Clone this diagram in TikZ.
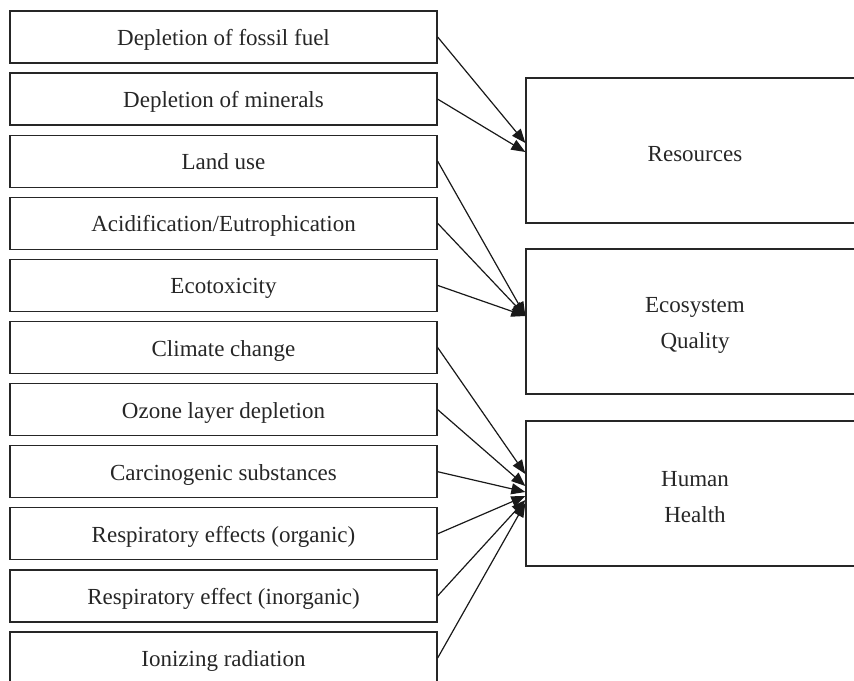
\documentclass[tikz,border=0pt]{standalone}
\usepackage{fontspec}
\setmainfont{Liberation Serif}
\usetikzlibrary{arrows.meta}
\begin{document}
\begin{tikzpicture}[x=1pt,y=-1pt,
  lbox/.style={draw=black!85, line width=1.3pt, minimum width=427pt, minimum height=52pt, inner sep=0pt, text height=17pt, text depth=0pt, font=\fontsize{23}{26}\selectfont, text=black!85},
  rbox/.style={draw=black!85, line width=1.3pt, minimum width=338pt, minimum height=145pt, inner sep=0pt},
  rtext/.style={font=\fontsize{23}{36}\selectfont, text=black!85, align=center, yshift=-4pt},
  conn/.style={draw=black!90, line width=1.2pt, -{Triangle[length=14pt,width=11pt]}}]
\useasboundingbox (0,0) rectangle (854,680);
\clip (0,0) rectangle (854,680);
\node[lbox] (a1) at (223.5,37.0) {Depletion of fossil fuel};
\node[lbox] (a2) at (223.5,99.1) {Depletion of minerals};
\node[lbox] (a3) at (223.5,161.2) {Land use};
\node[lbox] (a4) at (223.5,223.3) {Acidification/Eutrophication};
\node[lbox] (a5) at (223.5,285.4) {Ecotoxicity};
\node[lbox] (a6) at (223.5,347.5) {Climate change};
\node[lbox] (a7) at (223.5,409.6) {Ozone layer depletion};
\node[lbox] (a8) at (223.5,471.7) {Carcinogenic substances};
\node[lbox] (a9) at (223.5,533.8) {Respiratory effects (organic)};
\node[lbox] (a10) at (223.5,595.9) {Respiratory effect (inorganic)};
\node[lbox] (a11) at (223.5,658.0) {Ionizing radiation};
\node[rbox, label={[rtext]center:Resources}] (res) at (695,150.5) {};
\node[rbox, label={[rtext]center:Ecosystem\\Quality}] (eco) at (695,321.5) {};
\node[rbox, label={[rtext]center:Human\\Health}] (hum) at (695,493.5) {};
\draw[conn] (a1.east) -- ([yshift=7.5pt]res.west);
\draw[conn] (a2.east) -- ([yshift=-1.5pt]res.west);
\draw[conn] (a3.east) -- ([yshift=5.5pt]eco.west);
\draw[conn] (a4.east) -- ([yshift=5.5pt]eco.west);
\draw[conn] (a5.east) -- ([yshift=5.5pt]eco.west);
\draw[conn] (a6.east) -- ([yshift=19.5pt]hum.west);
\draw[conn] (a7.east) -- ([yshift=7.5pt]hum.west);
\draw[conn] (a8.east) -- ([yshift=1.5pt]hum.west);
\draw[conn] (a9.east) -- ([yshift=-2.5pt]hum.west);
\draw[conn] (a10.east) -- ([yshift=-6.5pt]hum.west);
\draw[conn] (a11.east) -- ([yshift=-9.5pt]hum.west);
\end{tikzpicture}
\end{document}
